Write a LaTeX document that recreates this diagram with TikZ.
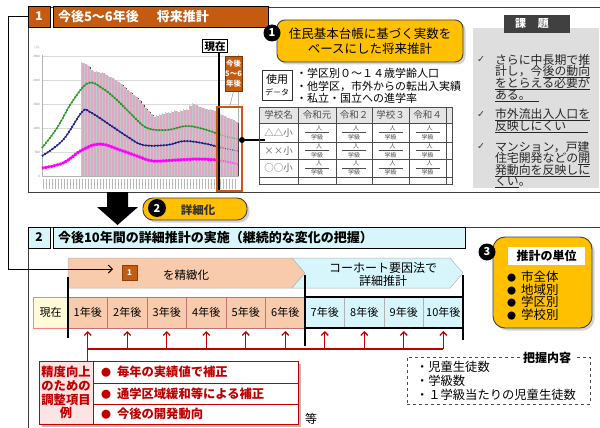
\documentclass[tikz,border=0pt]{standalone}
\usepackage{fontspec}
\setmainfont{Noto Sans CJK JP}
\newfontfamily\dejavu{DejaVu Sans}
\usetikzlibrary{shadows,arrows.meta}
\newcommand\fsz[2]{\fontsize{#1}{#2}\selectfont}
\newcommand\ulx[1]{\setbox0\hbox{#1}\rlap{\rule[-2.3pt]{\wd0}{1.1pt}}\box0}
\definecolor{orng}{RGB}{197,90,17}
\definecolor{salm}{RGB}{248,203,173}
\definecolor{cyanl}{RGB}{214,246,252}
\definecolor{yel}{RGB}{255,192,0}
\definecolor{kgray}{RGB}{222,222,222}
\definecolor{khead}{RGB}{64,64,64}
\definecolor{redd}{RGB}{192,0,0}
\definecolor{pinkl}{RGB}{252,228,228}
\definecolor{ylwl}{RGB}{255,250,215}
\definecolor{grn}{RGB}{40,150,40}
\definecolor{navyc}{RGB}{30,30,130}
\definecolor{mag}{RGB}{255,0,255}
\definecolor{barpk}{RGB}{222,168,195}
\definecolor{bargr}{RGB}{188,205,205}
\begin{document}
\begin{tikzpicture}[x=1pt,y=-1pt,
  every node/.style={inner sep=0pt,outer sep=0pt},
  hdrnum/.style={draw=black,line width=0.8,fill=#1,minimum width=22,minimum height=21,font=\bfseries\fsz{12}{13}},
  hdrbox/.style={draw=black,line width=0.8,fill=#1,inner xsep=5pt,minimum height=21,align=left},
  ybox/.style={draw=black!75,line width=0.9,fill=yel,drop shadow={shadow xshift=2.5pt,shadow yshift=-2.5pt,fill=gray!70}},
  numc/.style={circle,fill=black,text=white,font=\bfseries\fsz{11}{11},minimum size=17},
  cell/.style={draw=red!40!gray!80,line width=0.5,minimum width=39.5,minimum height=31,font=\fsz{11}{12}},
  redrow/.style={draw=redd,line width=0.8,fill=white,text width=189,inner xsep=8pt,align=left,text=redd,font=\bfseries\fsz{12.3}{14}},
  ktext/.style={anchor=west,font=\fsz{11.9}{12},text=black!85},
  kchk/.style={font=\dejavu\fsz{9.5}{9.5},text=black!75},
  rarrow/.style={redd,line width=1.3,-{Straight Barb[length=3.5pt,width=7pt]}},
  mk/.style={line width=#1,dash pattern=on 1.2pt off 1.8pt}
]
\useasboundingbox[fill=white] (0,0) rectangle (600,428);

% ---------- panel 1 ----------
\node[draw=gray!50!black,line width=0.7,minimum width=572.5,minimum height=185] (panelA) at (314.25,99.5) {};

% chart
\foreach \gy in {56,80,104,128,152} \draw[gray!30,line width=0.3] (42,\gy) -- (238,\gy);
\draw[gray!60,line width=0.4] (42,55) -- (42,176) -- (238,176) -- (238,55);
\foreach \gy/\gl [count=\gi] in {56/2500,80/2000,104/1500,128/1000,152/500,176/0}
  \node[font=\fsz{3}{3},anchor=east,text=gray] (yl\gi) at (40,\gy) {\gl};
\node[font=\fsz{3}{3},text=gray] (unit) at (37,48) {(人)};
\foreach \bx/\bt in {81/63,84/64,87/66,90/70,93/72,96/72,99/73,102/73,105/75,108/77,111/78,114/80,117/82,120/84,123/87,126/90,129/92,132/95,135/97,138/100,141/104,144/108,147/111,150/114,153/117,156/116,159/115,162/114,165/113,168/113,171/112,174/111,177/112,180/111,183/110,186/110,189/106,192/104,195/105,198/107,201/108,204/109,207/110,210/110,213/111,220/115,223/116,226/118,229/119,232/120,235/122}{
  \fill[bargr] (\bx,176) rectangle (\bx+1,\bt-1);
  \fill[barpk] (\bx+1,176) rectangle (\bx+2.5,\bt);
  \fill[gray!55!black] (\bx+2.5,176) rectangle (\bx+2.9,\bt+1);
}
\foreach \x in {43,46,...,236} \fill[gray!55] (\x,179) rectangle (\x+1.4,189);

\draw[grn,line width=0.9] plot[smooth,tension=0.6] coordinates {(42,148) (57,128) (72,102) (88,83) (102,88) (117,100) (132,115) (147,128) (167,130) (187,126) (207,130) (218,134)};
\draw[grn,mk=2] plot[smooth,tension=0.6] coordinates {(42,148) (57,128) (72,102) (88,83) (102,88) (117,100) (132,115) (147,128) (167,130) (187,126) (207,130) (218,134)};
\draw[grn!80,line width=1.2,dash pattern=on 0.8pt off 1.6pt] plot[smooth] coordinates {(218,134) (228,137) (238,139)};
\draw[navyc,line width=1] plot[smooth,tension=0.6] coordinates {(42,156) (63,140) (82,112) (90,112) (113,127) (128,137) (143,145) (167,145) (185,141) (207,144) (218,147)};
\draw[navyc,mk=2] plot[smooth,tension=0.6] coordinates {(42,156) (63,140) (82,112) (90,112) (113,127) (128,137) (143,145) (167,145) (185,141) (207,144) (218,147)};
\draw[navyc!80,line width=1.2,dash pattern=on 0.8pt off 1.6pt] plot[smooth] coordinates {(218,147) (228,149) (238,151)};
\draw[mag,line width=2] plot[smooth,tension=0.6] coordinates {(42,168) (63,163) (82,150) (100,144) (120,150) (137,156) (153,161) (177,160) (200,159) (218,160)};
\draw[mag,line width=3,dash pattern=on 1.6pt off 1.4pt] plot[smooth,tension=0.6] coordinates {(42,168) (63,163) (82,150) (100,144) (120,150) (137,156) (153,161) (177,160) (200,159) (218,160)};
\draw[mag!70,line width=2,dash pattern=on 1.2pt off 1.2pt] plot[smooth] coordinates {(218,160) (228,162) (238,164)};

\node[draw=black,line width=1,fill=white,minimum width=25,minimum height=13,font=\bfseries\fsz{10.5}{11}] (now) at (215,46.5) {現在};
\coordinate (nowB) at (219,192);
\draw[line width=1.6] (nowB |- now.south) -- (nowB);
\node[draw=orng,line width=2,minimum width=25,minimum height=84] (futbox) at (229.5,149) {};
\node[fill=orng,draw=orng!60!black,line width=0.4,minimum width=17,minimum height=35,align=center,text=white,font=\bfseries\fsz{7.5}{10}] (fut) at (233.5,74) {今後\\5～6\\年後};
\draw[gray,line width=0.4] (fut.south) -- (futbox.north);
\node[circle,fill=black,minimum size=6] (dot) at (242,140) {};
\coordinate (tblL) at (265,140);
\draw[line width=1.2] (dot) -- (tblL);

% header 1
\node[hdrnum=orng,text=white] (h1n) at (39,16.5) {1};
\node[hdrbox=orng,text width=205,text=white,font=\bfseries\fsz{13}{15}] (h1) at (160.5,16.5) {今後5～6年後\hspace{18pt}将来推計};

% box 1
\node[ybox,rounded corners=8,minimum width=186,minimum height=42,align=center,font=\fsz{12.5}{15}] (b1) at (370,41) {住民基本台帳に基づく実数を\\ベースにした将来推計};
\node[numc] (n1) at (272,33) {1};

% data used
\node[draw=black!80,line width=0.6,minimum width=30,minimum height=30,align=center] (use) at (277,85) {\fsz{11}{12}使用\\\fsz{8}{11}デ－タ};
\node[anchor=west,font=\fsz{11}{12}] (d1) at (296,73) {・学区別０～１４歳学齢人口};
\node[anchor=west,font=\fsz{11}{12}] (d2) at (296,86) {・他学区，市外からの転出入実績};
\node[anchor=west,font=\fsz{11}{12}] (d3) at (296,98) {・私立・国立への進学率};

% table
\fill[gray!20] (259,107) rectangle (452,123);
\draw[gray!60!black,line width=0.5] (259,107) rectangle (452,184);
\foreach \ty in {123,142,159,177} \draw[gray!60!black,line width=0.5] (259,\ty) -- (452,\ty);
\foreach \tx in {298,336,372,409,446} \draw[gray!60!black,line width=0.5] (\tx,107) -- (\tx,184);
\foreach \tx/\tl [count=\ti] in {278.5/学校名,317/令和元,354/令和２,390.5/学校３,427.5/令和４}
  \node[font=\fsz{9.5}{10},text=black!70] (th\ti) at (\tx,115) {\tl};
\foreach \ry/\rl [count=\ri] in {132.5/△△小,150.5/××小,168/○○小}
  \node[font=\fsz{9.5}{10},text=black!60] (tr\ri) at (278.5,\ry) {\rl};
\foreach \cx [count=\ci] in {317,354,390.5,427.5}{
  \foreach \ry [count=\ri] in {132.5,150.5,168}{
    \node[font=\fsz{6}{6},text=black!70] (pp\ci\ri) at (\cx+2,\ry-4.5) {人};
    \draw[gray!60!black,line width=0.4] (\cx-12,\ry) -- (\cx+12,\ry);
    \node[font=\fsz{6}{6},text=black!70] (pc\ci\ri) at (\cx,\ry+4.5) {学級};
  }}

% kadai
\node[fill=kgray,minimum width=126,minimum height=160] (kbox) at (535.5,108) {};
\node[fill=khead,minimum width=66,minimum height=18] (khead) at (537,24) {};
\node[text=white,font=\bfseries\fsz{11}{11}] (kheadT) at (532,24) {課\hspace{12pt}題};
\node[kchk] (ck1) at (481,60) {✓};
\node[kchk] (ck2) at (481,115) {✓};
\node[kchk] (ck3) at (481,147) {✓};
\node[ktext] (kt1) at (495,60) {さらに中長期で推};
\node[ktext] (kt2) at (495,72) {計し，今\ulx{後の動向}};
\node[ktext] (kt3) at (495,84) {\ulx{をとらえる必要が}};
\node[ktext] (kt4) at (495,96) {\ulx{ある。\hspace{8pt}}};
\node[ktext] (kt5) at (495,115) {\ulx{市外流出入人口を}};
\node[ktext] (kt6) at (495,127) {\ulx{反映しにくい\hspace{22pt}}};
\node[ktext] (kt7) at (495,147) {マンション，戸建};
\node[ktext] (kt8) at (495,159) {住宅開発などの\ulx{開}};
\node[ktext] (kt9) at (495,171) {\ulx{発動向を反映しに}};
\node[ktext] (kt10) at (495,182) {\ulx{くい}。};

% ---------- transition ----------
\fill (107,192) -- (128,192) -- (128,207) -- (138,207) -- (117.5,225) -- (97,207) -- (107,207) -- cycle;
\node[ybox,rounded corners=10,minimum width=104,minimum height=22] (b2) at (195,209) {};
\node[font=\bfseries\fsz{11.5}{12},text=black!80] (b2t) at (198,210) {詳細化};
\node[numc,minimum size=18] (n2) at (157,208) {2};

% ---------- panel 2 ----------
\coordinate (p2a) at (600,227);
\coordinate (p2b) at (28,227);
\coordinate (p2c) at (28,428);
\draw[gray!50!black,line width=0.7] (p2a) -- (p2b) -- (p2c);
\node[hdrnum=cyanl] (h2n) at (39,237.5) {2};
\node[hdrbox=cyanl,text width=402,font=\bfseries\fsz{13}{15}] (h2) at (259,237.5) {今後10年間の詳細推計の実施（継続的な変化の把握）};

% arrows
\draw[gray!60,fill=salm,line width=0.5] (68,258) -- (292,258) -- (305,273) -- (292,288) -- (68,288) -- cycle;
\draw[gray!60,fill=cyanl,line width=0.5] (292,258) -- (450,258) -- (463,273) -- (450,288) -- (292,288) -- (305,273) -- cycle;
\node[fill=orng,draw=orng!70!black,line width=0.4,minimum size=15,text=white,font=\bfseries\fsz{8}{8}] (sq1) at (129.5,272.5) {1};
\node[font=\fsz{11.5}{12}] (refT) at (186,275) {を精緻化};
\node[align=center,font=\fsz{12}{13}] (cohT) at (383,274) {コーホート要因法で\\詳細推計};

% connector from section 1
\coordinate (cL) at (8,269);
\coordinate (cA) at (113,269);
\draw[line width=1,-{Straight Barb[length=4pt,width=8pt]}] (h1n.west) -- (h1n.west -| cL) -- (cL) -- (cA);

% timeline
\node[cell,fill=ylwl,minimum width=35,draw=red!50] (t0) at (50.5,312.5) {現在};
\foreach \n in {1,...,6} \node[cell,fill=salm] (t\n) at ({68+39.5*(\n-0.5)},312.5) {{\n}年後};
\foreach \n in {7,...,10} \node[cell,fill=cyanl,draw=gray!60] (t\n) at ({68+39.5*(\n-0.5)},312.5) {{\n}年後};
\draw[line width=1.8] (t7.north west) rectangle (t10.south east);
\coordinate (k1) at (68,277); \coordinate (k1b) at (68,338);
\coordinate (k2) at (305,275); \coordinate (k2b) at (305,346);
\coordinate (k3) at (463,275); \coordinate (k3b) at (463,340);
\draw[line width=2] (k1) -- (k1b);
\draw[line width=2] (k2) -- (k2b);
\draw[line width=2] (k3) -- (k3b);

% red adjustment box
\fill[gray!55] (42,364) rectangle (301,427);
\node[draw=redd,line width=0.8,fill=pinkl,minimum width=54,minimum height=63,align=center,text=redd,font=\bfseries\fsz{12.3}{13.7}] (redL) at (66,392.5) {精度向上\\のための\\調整項目\\例};
\node[redrow,minimum height=22] (r1) at (195.5,372) {{\fsz{10}{10}●}\hspace{6pt}毎年の実績値で補正};
\node[redrow,minimum height=21] (r2) at (195.5,393.5) {{\fsz{10}{10}●}\hspace{6pt}通学区域緩和等による補正};
\node[redrow,minimum height=20] (r3) at (195.5,414) {{\fsz{10}{10}●}\hspace{6pt}今後の開発動向};
\node[font=\fsz{12}{12}] (toh) at (311,419) {等};

\coordinate (rl) at (0,349);
\draw[redd,line width=1.3] (t1.south |- rl) -- (t10.south |- rl);
\draw[redd,line width=1.3] (t1.south |- rl) -- (t1.south |- redL.north);
\foreach \n in {1,...,10} \draw[rarrow] (t\n.south |- rl) -- ([yshift=-3pt]t\n.south);

% grasp box
\node[draw=gray!60!black,dashed,line width=0.6,minimum width=183,minimum height=47] (grasp) at (498.5,380.5) {};
\node[fill=white,inner xsep=3pt,font=\bfseries\fsz{12}{12}] (graspT) at (547,358) {把握内容};
\node[anchor=west,font=\fsz{12.3}{13}] (g1) at (416,367) {・児童生徒数};
\node[anchor=west,font=\fsz{12.3}{13}] (g2) at (416,381) {・学級数};
\node[anchor=west,font=\fsz{12.3}{13}] (g3) at (416,395) {・１学級当たりの児童生徒数};

% box 3
\node[ybox,rounded corners=12,minimum width=99,minimum height=91] (b3) at (542.5,282.5) {};
\node[fill=white,minimum width=77,minimum height=18,font=\bfseries\fsz{12}{12}] (b3t) at (546.5,256) {推計の単位};
\node[numc] (n3) at (487,252) {3};
\node[anchor=west,font=\fsz{12.5}{13}] (u1) at (507,277) {{\fsz{9}{9}●}\hspace{5pt}市全体};
\node[anchor=west,font=\fsz{12.5}{13}] (u2) at (507,289.5) {{\fsz{9}{9}●}\hspace{5pt}地域別};
\node[anchor=west,font=\fsz{12.5}{13}] (u3) at (507,302) {{\fsz{9}{9}●}\hspace{5pt}学区別};
\node[anchor=west,font=\fsz{12.5}{13}] (u4) at (507,315) {{\fsz{9}{9}●}\hspace{5pt}学校別};
\end{tikzpicture}
\end{document}
